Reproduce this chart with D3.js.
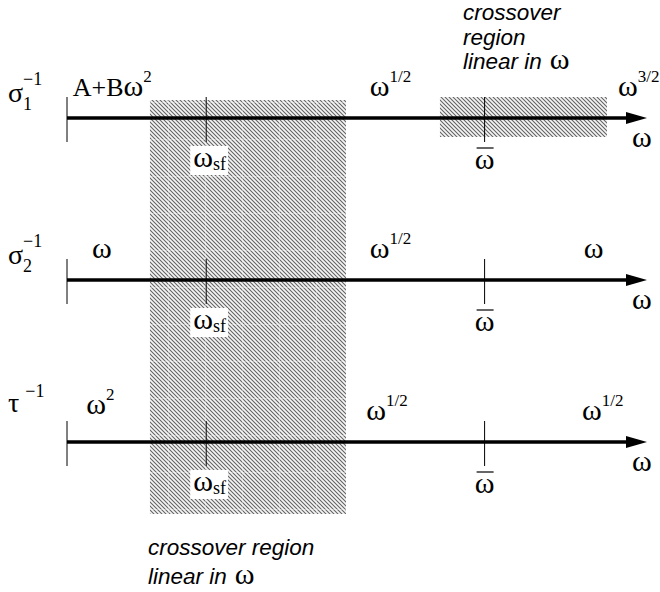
<!DOCTYPE html>
<html><head><meta charset="utf-8">
<script src="https://cdn.jsdelivr.net/npm/d3@7/dist/d3.min.js"></script>
<style>body{margin:0;background:#fff}svg{display:block}</style>
</head><body>
<script>
// ---- data ----
const rows = ["sigma1", "sigma2", "tau"];
const rowSymbol = ["σ", "σ", "τ"];
const rowSub = ["1", "2", ""];
const rowSup = ["−1", "−1", "−1"];
const lowPrefix = ["A+B", "", ""];
const lowExp = ["2", "", "2"];
const midExp = ["1/2", "1/2", "1/2"];
const highExp = ["3/2", "", "1/2"];
const lowAt = [1, 4.3, 3.3];
const midAt = [52.2, 52.2, 51.6];
const highAt = [95, 89.1, 88.8];
const omegaSf = 24;           // crossover frequency ω_sf (schematic units)
const omegaBar = 72;          // crossover frequency ω̄
const crossoverSf = [14.3, 48.1];
const crossoverBar = [64.3, 93.1];
const axisDomain = [0, 100];
const topNote = ["crossover", "region", "linear in"];
const bottomNote = ["crossover region", "linear in"];

// ---- layout ----
const W = 660, H = 592;
const x = d3.scaleLinear().domain(axisDomain).range([67, 647]);
const y = d3.scalePoint().domain(rows).range([118, 442]);
const serif = "'Liberation Serif','Times New Roman',serif";
const sans = "'Liberation Sans',Arial,Helvetica,sans-serif";
const OM = 30;   // size of ω glyph
const RM = 26;   // roman text size
const SS = 17;   // superscript size

const svg = d3.select("body").append("svg").attr("width", W).attr("height", H);
const defs = svg.append("defs");
const pat = defs.append("pattern").attr("id", "hatch").attr("patternUnits", "userSpaceOnUse")
  .attr("width", 4).attr("height", 4);
pat.append("rect").attr("width", 4).attr("height", 4).attr("fill", "#f4f4f4");
pat.append("path").attr("d", "M-1,-1 L5,5 M-1,3 L1,5 M3,-1 L5,1")
  .attr("stroke", "#626262").attr("stroke-width", 1.05);
const grid = defs.append("pattern").attr("id", "grid").attr("patternUnits", "userSpaceOnUse")
  .attr("x", 168).attr("y", 102).attr("width", 37).attr("height", 37);
grid.append("path").attr("d", "M0.5,0 V37 M0,0.5 H37").attr("stroke", "#fff").attr("stroke-width", 1).attr("opacity", 0.35);

// shaded crossover regions
const yTop = y(rows[0]) - 18, yBot = y(rows[2]) + 72;
svg.append("rect").attr("x", x(crossoverSf[0])).attr("y", yTop)
  .attr("width", x(crossoverSf[1]) - x(crossoverSf[0])).attr("height", yBot - yTop)
  .attr("fill", "url(#hatch)");
svg.append("rect").attr("x", x(crossoverSf[0])).attr("y", yTop)
  .attr("width", x(crossoverSf[1]) - x(crossoverSf[0])).attr("height", yBot - yTop)
  .attr("fill", "url(#grid)");
svg.append("rect").attr("x", x(crossoverBar[0])).attr("y", y(rows[0]) - 21)
  .attr("width", x(crossoverBar[1]) - x(crossoverBar[0])).attr("height", 40)
  .attr("fill", "url(#hatch)");

rows.forEach((r, i) => {
  const yy = y(r);
  const g = svg.append("g");
  // axis
  g.append("line").attr("x1", x(axisDomain[0])).attr("x2", x(axisDomain[1]) - 16)
    .attr("y1", yy).attr("y2", yy).attr("stroke", "#000").attr("stroke-width", 3.5);
  g.append("path").attr("d", `M${x(axisDomain[1])},${yy} L${x(axisDomain[1]) - 21},${yy - 6} L${x(axisDomain[1]) - 21},${yy + 6} Z`)
    .attr("fill", "#000");
  // ticks
  [axisDomain[0], omegaSf, omegaBar].forEach(v => {
    g.append("line").attr("x1", x(v)).attr("x2", x(v)).attr("y1", yy - 21).attr("y2", yy + 24)
      .attr("stroke", "#000").attr("stroke-width", 1);
  });
  // ω_sf label with white box
  const sf = g.append("text").attr("x", x(omegaSf) - 13).attr("y", yy + 49)
    .attr("font-family", serif).attr("font-size", OM);
  sf.append("tspan").text("ω");
  sf.append("tspan").attr("font-size", 18).attr("dy", 3).text("sf");
  const bb = sf.node().getBBox();
  g.insert("rect", "text").attr("x", bb.x - 3).attr("y", yy + 28).attr("width", bb.width + 5).attr("height", 29)
    .attr("fill", "#fff");
  // ω̄ label
  g.append("text").attr("x", x(omegaBar)).attr("y", yy + 51).attr("text-anchor", "middle")
    .attr("font-family", serif).attr("font-size", OM).text("ω");
  g.append("line").attr("x1", x(omegaBar) - 8).attr("x2", x(omegaBar) + 9)
    .attr("y1", yy + 30).attr("y2", yy + 30).attr("stroke", "#000").attr("stroke-width", 1.2);
  // axis variable label
  g.append("text").attr("x", 632).attr("y", yy + 29)
    .attr("font-family", serif).attr("font-size", OM).text("ω");
  // row label
  const lbl = g.append("text").attr("x", 8).attr("y", yy + (i === 2 ? -30 : -16))
    .attr("font-family", serif).attr("font-size", 28);
  lbl.append("tspan").text(rowSymbol[i]);
  if (rowSub[i]) {
    lbl.append("tspan").attr("font-size", 18).attr("dy", 8).text(rowSub[i]);
    lbl.append("tspan").attr("font-size", 18).attr("dx", -9).attr("dy", -25).text(rowSup[i]);
  } else {
    lbl.append("tspan").attr("font-size", 18).attr("dx", 6).attr("dy", -15).text(rowSup[i]);
  }
  // power laws
  const law = (prefix, exp, at, dy) => {
    const t = g.append("text").attr("x", x(at)).attr("y", yy + dy)
      .attr("font-family", serif).attr("font-size", RM);
    if (prefix) t.append("tspan").text(prefix);
    t.append("tspan").attr("font-size", OM).text("ω");
    if (exp) t.append("tspan").attr("font-size", SS).attr("dy", -14).text(exp);
  };
  law(lowPrefix[i], lowExp[i], lowAt[i], i === 2 ? -28 : -22);
  law("", midExp[i], midAt[i], -22);
  law("", highExp[i], highAt[i], -22);
});

// notes
const note = (lines, x0, y0, step) => {
  lines.forEach((s, k) => {
    const t = svg.append("text").attr("x", x0).attr("y", y0 + k * step)
      .attr("font-family", sans).attr("font-style", "italic").attr("font-size", 22.5).attr("fill", "#000");
    t.append("tspan").text(s);
    if (k === lines.length - 1)
      t.append("tspan").attr("font-family", serif).attr("font-style", "normal").attr("font-size", OM).attr("dx", 8).text("ω");
  });
};
note(topNote, 463, 20, 24.5);
note(bottomNote, 148, 555, 29);
</script>
</body></html>
